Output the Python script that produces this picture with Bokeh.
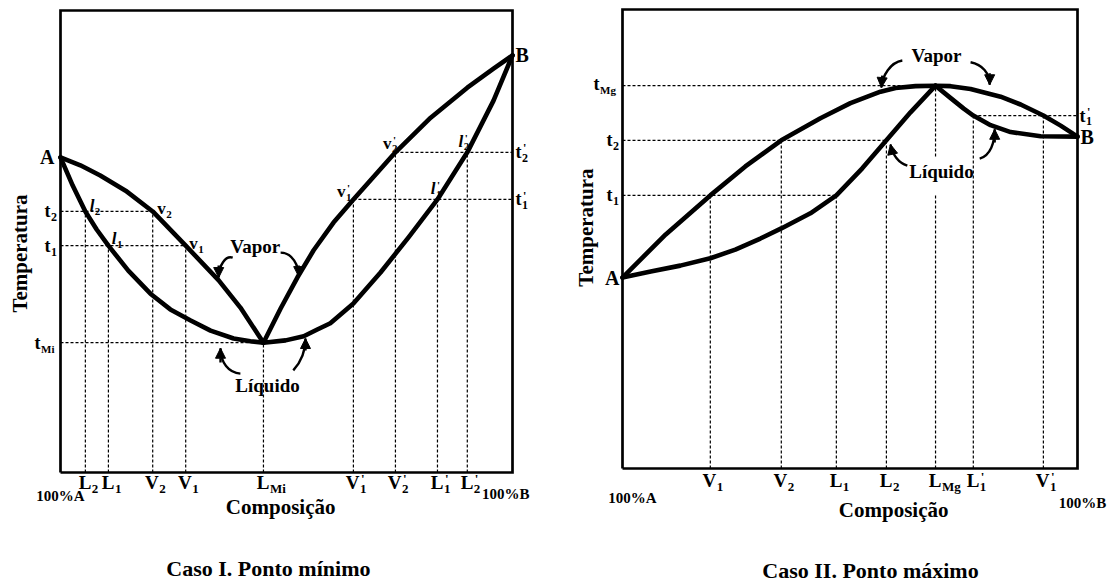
import math
from bokeh.plotting import figure
from bokeh.layouts import row
from bokeh.models import Arrow, NormalHead
from bokeh.core.properties import value
from bokeh.embed import file_html
from bokeh.resources import INLINE

FONT = "Liberation Serif"

# ---------------- Case I (minimum) : composition %B, temperature (arbitrary units)
I_vap_left_x = [0.0, 4.4, 8.8, 14.4, 20.4, 27.7, 35.0, 39.8, 44.9]
I_vap_left_t = [68.2, 66.5, 64.3, 61.0, 56.5, 49.1, 41.6, 35.7, 28.1]
I_liq_left_x = [0.0, 2.7, 5.5, 8.0, 10.6, 15.0, 19.9, 24.3, 28.8, 33.2, 38.3, 42.0, 44.9]
I_liq_left_t = [68.2, 62.1, 56.5, 52.6, 49.1, 43.7, 38.7, 35.3, 32.9, 30.7, 29.0, 28.4, 28.1]
I_vap_right_x = [44.9, 48.7, 52.4, 56.0, 60.4, 64.8, 74.1, 81.9, 90.0, 95.8, 100.0]
I_vap_right_t = [28.1, 35.5, 42.2, 48.1, 54.1, 59.1, 69.3, 76.8, 83.3, 87.4, 90.3]
I_liq_right_x = [44.9, 49.8, 53.8, 56.7, 59.7, 64.8, 70.8, 77.0, 83.4, 90.0, 95.8, 100.0]
I_liq_right_t = [28.1, 28.6, 29.5, 30.9, 32.3, 36.6, 43.3, 50.9, 59.1, 69.3, 80.5, 90.3]
I_temps = {"t2": 56.5, "t1": 49.1, "tMi": 28.1, "t1p": 59.1, "t2p": 69.3}
I_comp = {"L2": 5.5, "L1": 10.6, "V2": 20.4, "V1": 27.7, "LMi": 44.9,
          "V1p": 64.8, "V2p": 74.1, "L1p": 83.4, "L2p": 90.0}
I_TA, I_TB = 68.2, 90.3

# ---------------- Case II (maximum)
II_vap_x = [0.0, 9.5, 19.3, 27.0, 34.9, 43.5, 50.1, 56.7, 60.0, 64.4, 68.8,
            72.1, 76.5, 83.1, 87.5, 92.5, 96.3, 100.0]
II_vap_t = [41.6, 51.0, 59.5, 65.8, 71.5, 76.3, 79.6, 82.1, 82.9, 83.3, 83.4,
            83.3, 82.7, 81.0, 79.3, 76.9, 74.7, 72.3]
II_liq_left_x = [0.0, 6.2, 12.7, 19.3, 24.8, 30.3, 34.9, 41.3, 47.0, 52.7, 58.0, 63.3, 68.8]
II_liq_left_t = [41.6, 42.9, 44.2, 45.8, 47.7, 50.1, 52.3, 55.6, 59.5, 65.4, 71.5, 77.6, 83.4]
II_liq_right_x = [68.8, 72.0, 75.0, 77.1, 80.9, 85.3, 91.9, 100.0]
II_liq_right_t = [83.4, 80.8, 78.4, 76.9, 74.8, 73.3, 72.4, 72.3]
II_temps = {"tMg": 83.4, "t2": 71.5, "t1": 59.5, "t1p": 76.9}
II_comp = {"V1": 19.3, "V2": 34.9, "L1": 47.0, "L2": 58.0, "LMg": 68.8,
           "L1p": 77.1, "V1p": 92.5}
II_TA, II_TB = 41.6, 72.3


def make_fig(w, h, xr, yr):
    p = figure(width=w, height=h, x_range=xr, y_range=yr, output_backend="svg",
               toolbar_location=None, min_border=0, x_axis_type=None, y_axis_type=None)
    p.grid.visible = False
    p.outline_line_color = None
    p.background_fill_color = "white"
    p.border_fill_color = "white"
    return p


def txt(p, sc, x, y, s, dx=0, dy=0, size=16, align="center", baseline="middle",
        angle=0.0, style="bold"):
    p.text(x=[x + dx / sc[0]], y=[y - dy / sc[1]], text=[s], angle=angle,
           text_font=value(FONT), text_font_size=f"{size}px", text_font_style=style,
           text_align=align, text_baseline=baseline, text_color="black")


def sub(p, sc, x, y, base, s, prime=False, dx=0, dy=0, size=18, ssize=12, style="bold"):
    txt(p, sc, x, y, base, dx, dy, size, align="right", style=style)
    txt(p, sc, x, y, s, dx + 0.5, dy + size * 0.33, ssize, align="left")
    if prime:
        txt(p, sc, x, y, "'", dx + 1.5, dy - size * 0.22, ssize, align="left")


def box(p):
    p.line([0, 100, 100, 0, 0], [0, 0, 100, 100, 0], line_color="black",
           line_width=2.7, line_join="miter")


def curve(p, xs, ys):
    p.line(xs, ys, line_color="black", line_width=4.6, line_join="round", line_cap="round")


def dotted_h(p, x0, x1, y):
    p.segment(x0=x0, y0=y, x1=x1, y1=y, line_color="black", line_width=1.2, line_dash="3 2")


def dotted_v(p, x, y0, y1):
    p.segment(x0=x, y0=y0, x1=x, y1=y1, line_color="black", line_width=1.2, line_dash="3 2")


def carrow(p, x0, y0, cx0, cy0, cx1, cy1, x1, y1):
    p.bezier(x0=[x0], y0=[y0], x1=[x1], y1=[y1], cx0=[cx0], cy0=[cy0], cx1=[cx1], cy1=[cy1],
             line_color="black", line_width=2.4)
    p.add_layout(Arrow(end=NormalHead(size=10, fill_color="black", line_color="black"),
                       x_start=cx1, y_start=cy1, x_end=x1, y_end=y1,
                       line_color="black", line_width=2.4))


# ======================= Panel I =======================
sc1 = (4.52, 4.62)
p1 = make_fig(563, 586, (-13.274, 111.283), (-24.675, 102.165))
T, C = I_temps, I_comp
dotted_h(p1, [0, 0, 0, C["V1p"], C["V2p"]], [C["V2"], C["V1"], C["LMi"], 100, 100],
         [T["t2"], T["t1"], T["tMi"], T["t1p"], T["t2p"]])
dotted_v(p1, [C["L2"], C["L1"], C["V2"], C["V1"], C["LMi"], C["V1p"], C["V2p"], C["L1p"], C["L2p"]],
         [0] * 9,
         [T["t2"], T["t1"], T["t2"], T["t1"], T["tMi"], T["t1p"], T["t2p"], T["t1p"], T["t2p"]])
box(p1)
curve(p1, I_vap_left_x, I_vap_left_t)
curve(p1, I_liq_left_x, I_liq_left_t)
curve(p1, I_vap_right_x, I_vap_right_t)
curve(p1, I_liq_right_x, I_liq_right_t)

txt(p1, sc1, 0, I_TA, "A", dx=-6, align="right", size=20)
txt(p1, sc1, 100, I_TB, "B", dx=3, align="left", size=20)
sub(p1, sc1, 0, T["t2"], "t", "2", dx=-10)
sub(p1, sc1, 0, T["t1"], "t", "1", dx=-10)
sub(p1, sc1, 0, T["tMi"], "t", "Mi", dx=-20, ssize=11)
sub(p1, sc1, 100, T["t2p"], "t", "2", prime=True, dx=9)
sub(p1, sc1, 100, T["t1p"], "t", "1", prime=True, dx=9)

# point labels
sub(p1, sc1, C["L2"], T["t2"], "l", "2", dx=9, dy=-6, size=17, ssize=11, style="bold italic")
sub(p1, sc1, C["L1"], T["t1"], "l", "1", dx=8, dy=-7, size=17, ssize=11, style="bold italic")
sub(p1, sc1, C["V2"], T["t2"], "v", "2", dx=13, dy=-3, size=17, ssize=11)
sub(p1, sc1, C["V1"], T["t1"], "v", "1", dx=12, dy=-2, size=17, ssize=11)
sub(p1, sc1, C["V1p"], T["t1p"], "v", "1", prime=True, dx=-8, dy=-8, size=17, ssize=11)
sub(p1, sc1, C["V2p"], T["t2p"], "v", "2", prime=True, dx=-4, dy=-9, size=17, ssize=11)
sub(p1, sc1, C["L1p"], T["t1p"], "l", "1", prime=True, dx=-2, dy=-11, size=17, ssize=11, style="bold italic")
sub(p1, sc1, C["L2p"], T["t2p"], "l", "2", prime=True, dx=-4, dy=-11, size=17, ssize=11, style="bold italic")

# tick labels
ticks1 = [("L2", "L", "2", False), ("L1", "L", "1", False), ("V2", "V", "2", False),
          ("V1", "V", "1", False), ("LMi", "L", "Mi", False), ("V1p", "V", "1", True),
          ("V2p", "V", "2", True), ("L1p", "L", "1", True), ("L2p", "L", "2", True)]
for key, b, s, pr in ticks1:
    sub(p1, sc1, C[key], 0, b, s, prime=pr, dx=6, dy=10, size=19, ssize=13)

txt(p1, sc1, 0.0, -5.19, "100%A", size=15)
txt(p1, sc1, 98.5, -4.76, "100%B", size=15)
txt(p1, sc1, 48.7, -7.36, "Composição", size=21)
txt(p1, sc1, -8.85, 47.4, "Temperatura", size=21, angle=math.pi / 2)
txt(p1, sc1, 46.0, -20.78, "Caso I. Ponto mínimo", size=22)

txt(p1, sc1, 43.1, 48.9, "Vapor", size=19)
txt(p1, sc1, 45.8, 18.8, "Líquido", size=19)
carrow(p1, 38.1, 46.5, 36.5, 47.0, 35.0, 44.8, 35.0, 42.2)
carrow(p1, 48.7, 47.6, 51.3, 47.6, 52.7, 44.8, 52.7, 42.4)
carrow(p1, 39.8, 21.4, 37.2, 21.6, 35.4, 23.8, 35.4, 26.9)
carrow(p1, 51.5, 22.1, 53.1, 23.8, 54.2, 26.4, 54.2, 29.0)

# ======================= Panel II =======================
sc2 = (4.55, 4.59)
p2 = make_fig(553, 586, (-12.967, 108.571), (-25.708, 101.961))
T, C = II_temps, II_comp
dotted_h(p2, [0, 0, 0, C["L1p"]], [C["LMg"], C["L2"], C["L1"], 100],
         [T["tMg"], T["t2"], T["t1"], T["t1p"]])
dotted_v(p2, [C["V1"], C["V2"], C["L1"], C["L2"], C["LMg"], C["LMg"], C["L1p"], C["V1p"]],
         [0, 0, 0, 0, 0, 68.0, 0, 0],
         [T["t1"], T["t2"], T["t1"], T["t2"], 59.9, T["tMg"], T["t1p"], T["t1p"]])
box(p2)
curve(p2, II_vap_x, II_vap_t)
curve(p2, II_liq_left_x, II_liq_left_t)
curve(p2, II_liq_right_x, II_liq_right_t)

txt(p2, sc2, 0, II_TA, "A", dx=-3, align="right", size=20)
txt(p2, sc2, 100, II_TB, "B", dx=3, align="left", size=20)
sub(p2, sc2, 0, T["tMg"], "t", "Mg", dx=-23, dy=-2, ssize=11)
sub(p2, sc2, 0, T["t2"], "t", "2", dx=-10)
sub(p2, sc2, 0, T["t1"], "t", "1", dx=-10)
sub(p2, sc2, 100, T["t1p"], "t", "1", prime=True, dx=8)

ticks2 = [("V1", "V", "1", False), ("V2", "V", "2", False), ("L1", "L", "1", False),
          ("L2", "L", "2", False), ("LMg", "L", "Mg", False), ("L1p", "L", "1", True),
          ("V1p", "V", "1", True)]
for key, b, s, pr in ticks2:
    sub(p2, sc2, C[key], 0, b, s, prime=pr, dx=6, dy=12, size=19, ssize=13)

txt(p2, sc2, 2.2, -6.5, "100%A", size=15)
txt(p2, sc2, 101.1, -7.6, "100%B", size=15)
txt(p2, sc2, 59.6, -9.15, "Composição", size=21)
txt(p2, sc2, -8.1, 52.5, "Temperatura", size=21, angle=math.pi / 2)
txt(p2, sc2, 54.5, -22.2, "Caso II. Ponto máximo", size=22)

txt(p2, sc2, 69.0, 90.0, "Vapor", size=19)
txt(p2, sc2, 70.1, 64.7, "Líquido", size=19)
carrow(p2, 61.5, 88.9, 58.9, 88.5, 57.1, 85.6, 56.9, 83.0)
carrow(p2, 76.5, 88.5, 79.1, 88.0, 80.7, 86.1, 80.7, 83.6)
carrow(p2, 62.6, 66.0, 60.4, 66.7, 59.3, 68.8, 58.9, 70.6)
carrow(p2, 78.5, 67.5, 80.9, 68.2, 81.8, 71.0, 81.8, 73.9)

layout = row(p1, p2)
open("out.html", "w").write(file_html(layout, INLINE))
